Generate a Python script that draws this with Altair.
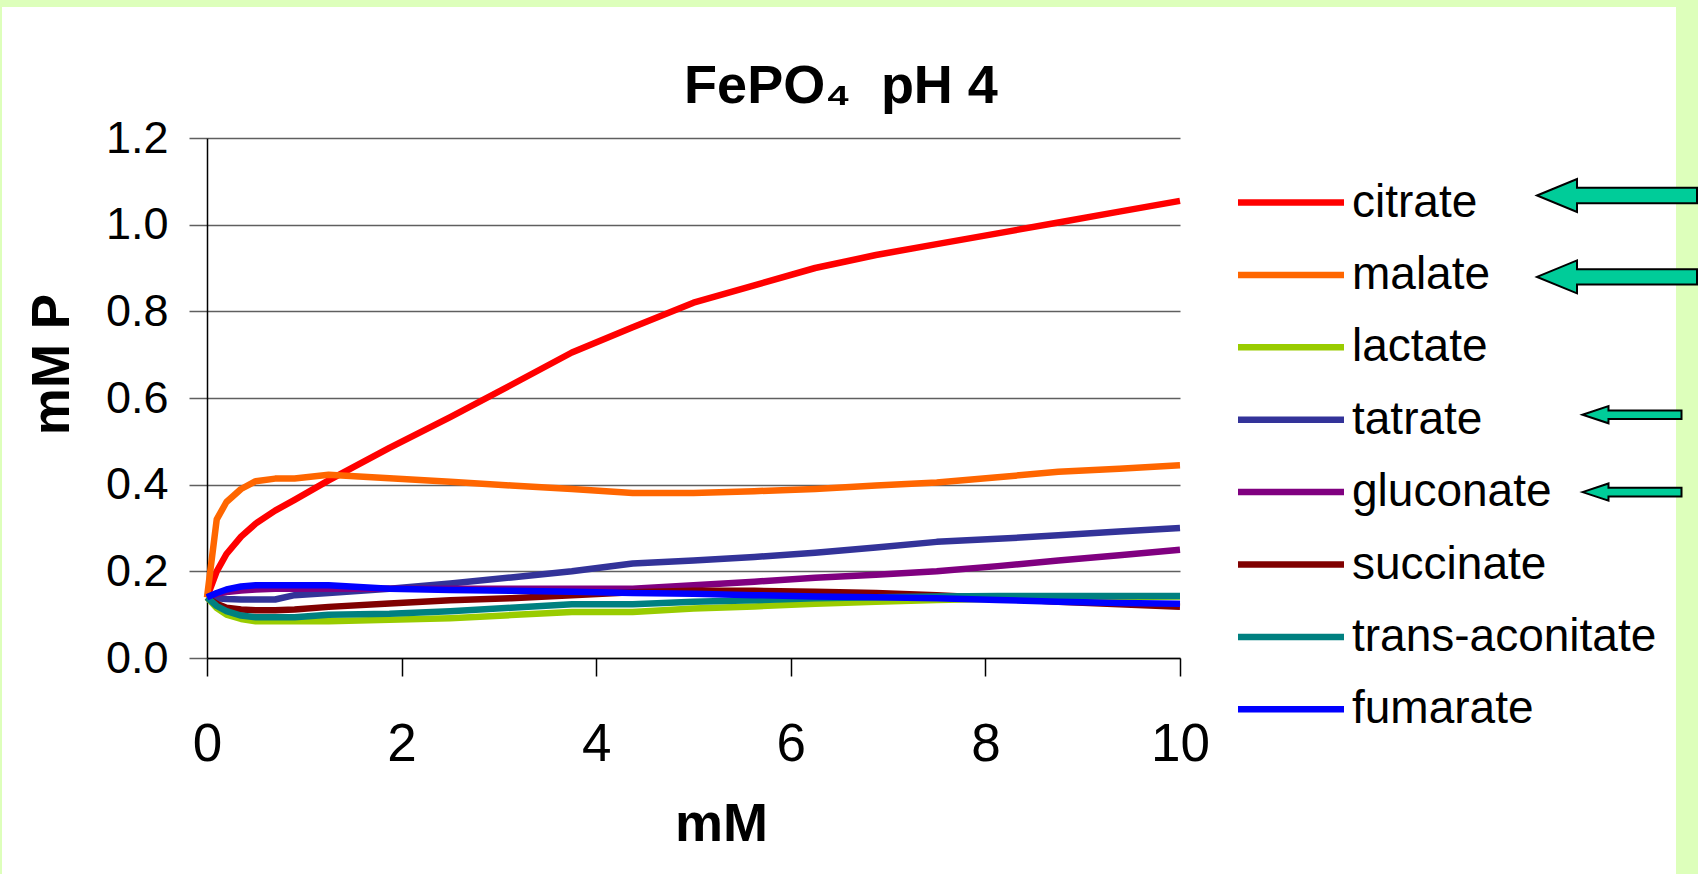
import altair as alt
import pandas as pd

FONT = "Liberation Sans"

# ---- data ----
x_mM = [0, 0.1, 0.2, 0.35, 0.5, 0.7, 0.9, 1.25, 1.875, 2.5, 3.125, 3.75,
        4.375, 5.0, 5.625, 6.25, 6.875, 7.5, 8.125, 8.75, 9.375, 10]

citrate = [0.14, 0.20, 0.24, 0.28, 0.31, 0.34, 0.365, 0.41, 0.485, 0.556, 0.63, 0.705,
           0.763, 0.82, 0.86, 0.90, 0.93, 0.955, 0.98, 1.005, 1.03, 1.055]
malate = [0.14, 0.32, 0.36, 0.39, 0.408, 0.414, 0.414, 0.423, 0.415, 0.407, 0.398, 0.39,
          0.381, 0.381, 0.385, 0.39, 0.398, 0.405, 0.417, 0.43, 0.437, 0.445]
lactate = [0.14, 0.115, 0.10, 0.09, 0.085, 0.085, 0.085, 0.085, 0.088, 0.092, 0.099, 0.106,
           0.106, 0.114, 0.119, 0.125, 0.13, 0.134, 0.137, 0.14, 0.141, 0.142]
tatrate = [0.14, 0.138, 0.136, 0.135, 0.135, 0.135, 0.145, 0.15, 0.16, 0.172, 0.186, 0.2,
           0.218, 0.225, 0.233, 0.243, 0.255, 0.268, 0.275, 0.283, 0.292, 0.30]
gluconate = [0.14, 0.148, 0.152, 0.156, 0.158, 0.16, 0.16, 0.16, 0.16, 0.16, 0.16, 0.16,
             0.16, 0.168, 0.176, 0.185, 0.192, 0.2, 0.212, 0.225, 0.237, 0.25]
succinate = [0.14, 0.125, 0.116, 0.112, 0.11, 0.11, 0.112, 0.118, 0.126, 0.133, 0.138, 0.145,
             0.152, 0.155, 0.155, 0.153, 0.15, 0.145, 0.138, 0.13, 0.124, 0.118]
trans_aconitate = [0.14, 0.12, 0.108, 0.098, 0.094, 0.094, 0.094, 0.1, 0.102, 0.108, 0.116, 0.124,
                   0.124, 0.13, 0.133, 0.138, 0.14, 0.142, 0.143, 0.143, 0.143, 0.143]
fumarate = [0.14, 0.15, 0.158, 0.165, 0.168, 0.168, 0.168, 0.168, 0.16, 0.157, 0.155, 0.153,
            0.15, 0.148, 0.145, 0.142, 0.14, 0.138, 0.134, 0.13, 0.127, 0.125]

names = ["citrate", "malate", "lactate", "tatrate", "gluconate",
         "succinate", "trans-aconitate", "fumarate"]
series = [citrate, malate, lactate, tatrate, gluconate, succinate, trans_aconitate, fumarate]
colors = ["#FF0000", "#FF6600", "#99CC00", "#333399", "#800080",
          "#800000", "#008080", "#0000FF"]

arrow_rows = ["citrate", "malate", "tatrate", "gluconate"]
arrow_kind = ["big", "big", "small", "small"]
arrow_dy = [-7, 2, -5, 0]

x_ticks = [0, 2, 4, 6, 8, 10]
y_ticks = [0.0, 0.2, 0.4, 0.6, 0.8, 1.0, 1.2]

title_text = "FePO\u2084\u00a0 pH 4"

# ---- tables ----
rows = []
for i, (n, ys) in enumerate(zip(names, series)):
    for xv, yv in zip(x_mM, ys):
        rows.append({"name": n, "order": i, "x": xv, "y": yv})
df = pd.DataFrame(rows)
legend_df = pd.DataFrame({"name": names})
arrow_df = pd.DataFrame({"name": arrow_rows, "kind": arrow_kind, "dy": arrow_dy})
one = pd.DataFrame({"a": [0]})

W, H = 973, 520
PAD = {"left": 207, "top": 138, "right": 518, "bottom": 216}

color_scale = alt.Scale(domain=names, range=colors)
row_scale = alt.Scale(type="point", domain=names, range=[64.5, 571.3], padding=0)

GRID = "#5f5f5f"

lines = alt.Chart(df).mark_line(strokeWidth=6.5, strokeJoin="round").encode(
    x=alt.X("x:Q", scale=alt.Scale(domain=[0, 10], nice=False),
            axis=alt.Axis(values=x_ticks, title="mM", grid=False,
                          labelFontSize=53, labelFont=FONT, labelColor="black",
                          labelPadding=42, labelFlush=False, labelOverlap=False,
                          tickSize=18, tickColor="black", tickWidth=1.5,
                          domainColor="black", domainWidth=1.5,
                          titleFontSize=54, titleFont=FONT, titleFontWeight="bold",
                          titleColor="black", titleX=514, titleY=182,
                          titleBaseline="alphabetic", titleAlign="center")),
    y=alt.Y("y:Q", scale=alt.Scale(domain=[0, 1.2], nice=False),
            axis=alt.Axis(values=y_ticks, format=".1f", title="mM P",
                          grid=True, gridColor=GRID, gridWidth=1.5,
                          labelFontSize=45, labelFont=FONT, labelColor="black",
                          labelPadding=21, labelFlush=False, labelOverlap=False,
                          tickSize=18, tickColor=GRID, tickWidth=1.5,
                          domainColor="black", domainWidth=1.5,
                          titleFontSize=53, titleFont=FONT, titleFontWeight="bold",
                          titleColor="black", titleAngle=270, titleX=-139, titleY=226,
                          titleBaseline="alphabetic", titleAlign="center")),
    color=alt.Color("name:N", scale=color_scale, legend=None),
    detail="order:O",
)

leg_lines = alt.Chart(legend_df).mark_rule(strokeWidth=6.5).encode(
    x=alt.value(1031), x2=alt.value(1137),
    y=alt.Y("name:N", scale=row_scale, axis=None),
    color=alt.Color("name:N", scale=color_scale, legend=None),
)
leg_text = alt.Chart(legend_df).mark_text(
    align="left", baseline="middle", fontSize=46, font=FONT, color="black"
).encode(
    x=alt.value(1145),
    y=alt.Y("name:N", scale=row_scale, axis=None),
    text="name:N",
)

big_arrow = "M-1,0L-0.5,-0.206L-0.5,-0.096L1,-0.096L1,0.096L-0.5,0.096L-0.5,0.206Z"
small_arrow = "M-1,0L-0.475,-0.174L-0.475,-0.087L1,-0.087L1,0.087L-0.475,0.087L-0.475,0.174Z"

arrows_big = alt.Chart(arrow_df).transform_filter(alt.datum.kind == "big").mark_point(
    shape=big_arrow, size=25600, filled=True, fill="#00CC99", stroke="black",
    strokeWidth=2, opacity=1, fillOpacity=1
).encode(x=alt.value(1410), y=alt.Y("name:N", scale=row_scale, axis=None),
         yOffset=alt.YOffset("dy:Q", scale=None))
arrows_small = alt.Chart(arrow_df).transform_filter(alt.datum.kind == "small").mark_point(
    shape=small_arrow, size=9801, filled=True, fill="#00CC99", stroke="black",
    strokeWidth=2, opacity=1, fillOpacity=1
).encode(x=alt.value(1425), y=alt.Y("name:N", scale=row_scale, axis=None),
         yOffset=alt.YOffset("dy:Q", scale=None))

GREEN = "#DDFFBB"
border_top = alt.Chart(one).mark_rect(color=GREEN).encode(
    x=alt.value(-207), x2=alt.value(1491), y=alt.value(-138), y2=alt.value(-131))
border_left = alt.Chart(one).mark_rect(color=GREEN).encode(
    x=alt.value(-207), x2=alt.value(-205), y=alt.value(-138), y2=alt.value(736))
border_right = alt.Chart(one).mark_rect(color=GREEN).encode(
    x=alt.value(1469), x2=alt.value(1491), y=alt.value(-138), y2=alt.value(736))

title = alt.Chart(one).mark_text(
    text=title_text, fontSize=54, fontWeight="bold", font=FONT, color="black",
    align="center", baseline="alphabetic"
).encode(x=alt.value(634), y=alt.value(-35))

chart = alt.layer(
    lines, leg_lines, leg_text, border_top, border_left, border_right,
    arrows_big, arrows_small, title
).resolve_scale(y="independent").properties(
    width=W, height=H,
    autosize=alt.AutoSizeParams(type="none"),
    padding=PAD,
    background="white",
).configure_view(stroke=None)

chart.save("out.html", embed_options={"renderer": "svg", "actions": False})
